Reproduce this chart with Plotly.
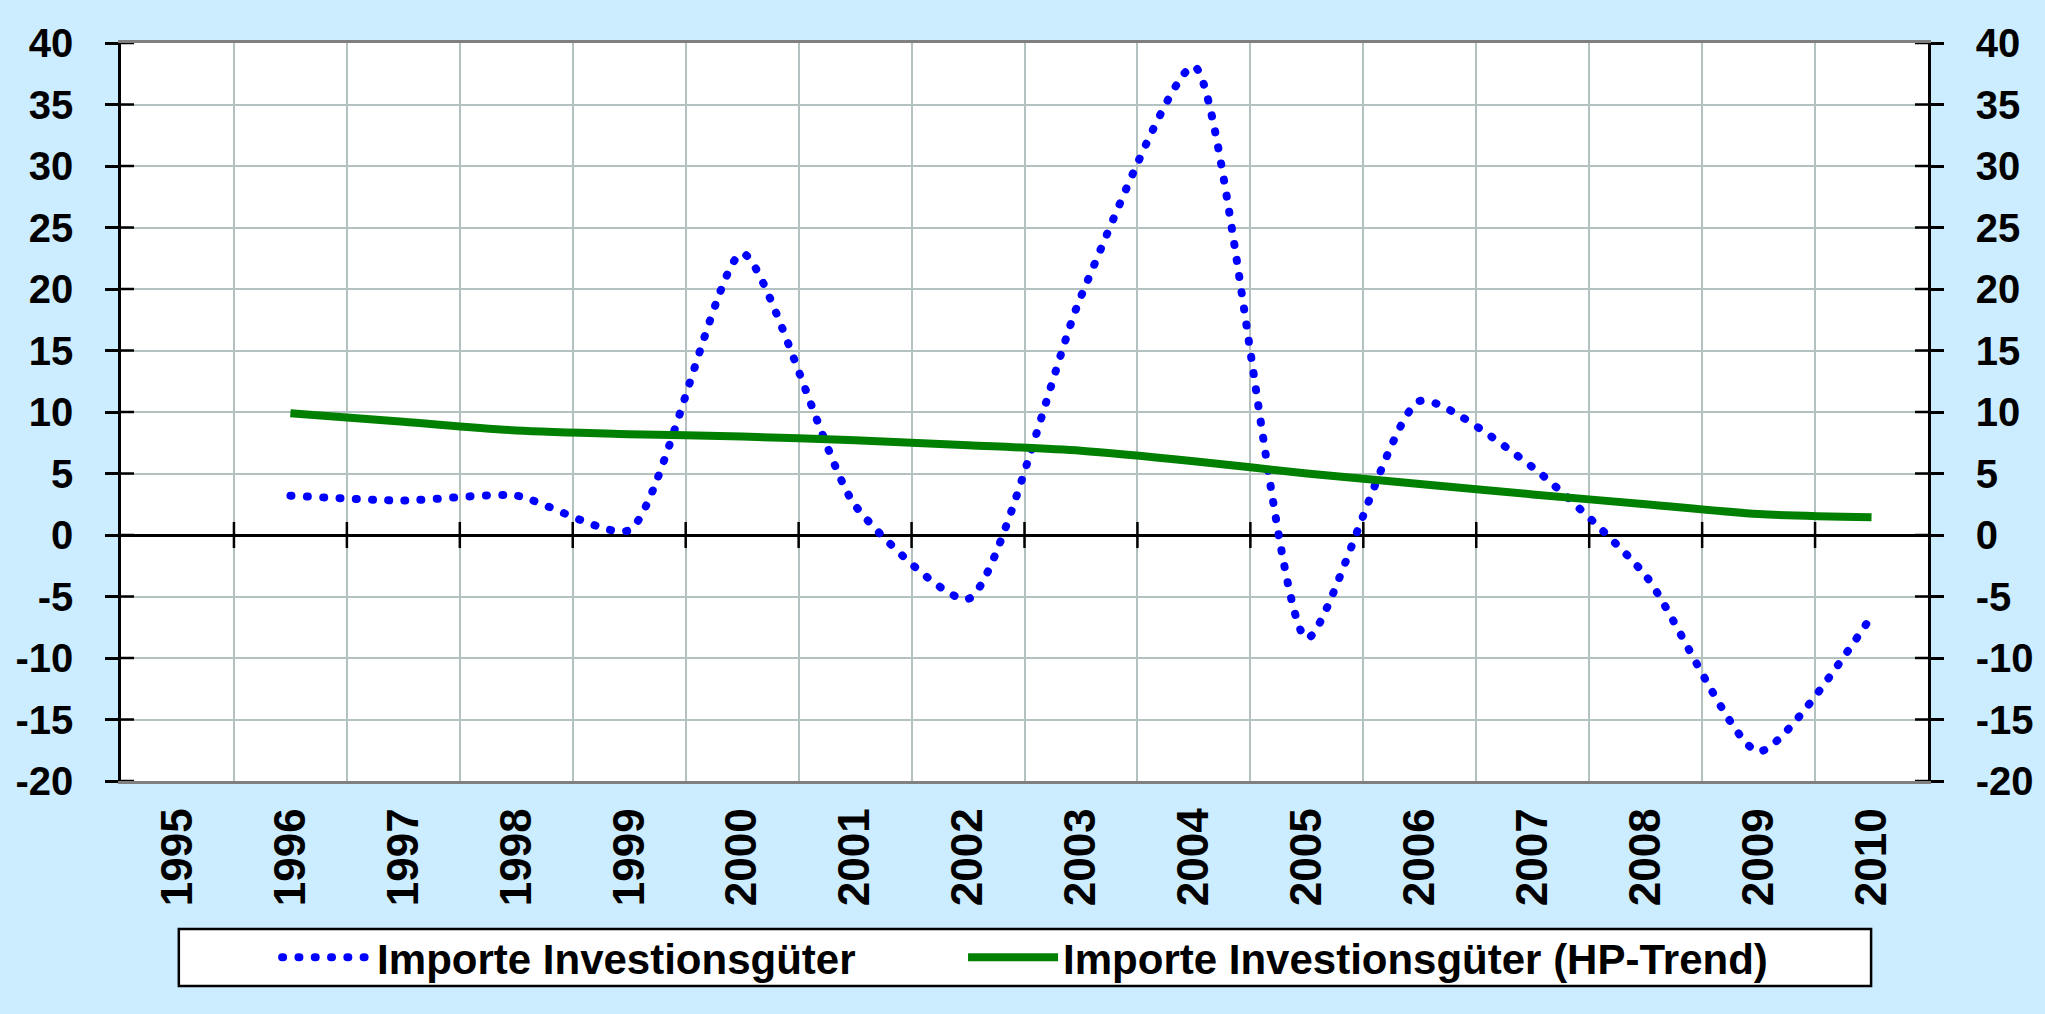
import plotly.graph_objects as go

years = [str(y) for y in range(1995, 2011)]
imports = [None, 3.2, 2.8, 3.2, 0.4, 22.9, 2.4, -5.2, 19.4, 38.1, -8.4, 10.9, 5.5, -3.3, -17.6, -6.6]
hp_trend = [None, 9.9, 9.2, 8.5, 8.2, 8.0, 7.7, 7.3, 6.85, 6.0, 5.0, 4.15, 3.3, 2.5, 1.7, 1.45]
y_ticks = [-20, -15, -10, -5, 0, 5, 10, 15, 20, 25, 30, 35, 40]
y_ticktext = [str(v) for v in y_ticks]
names = ["Importe Investionsgüter", "Importe Investionsgüter (HP-Trend)"]

FONT = "Liberation Sans, Arial, sans-serif"
BG = "#CCECFF"
GRID = "#B3C1C1"

fig = go.Figure()
fig.add_trace(go.Scatter(
    x=years, y=imports, name=names[0], mode="lines", legend="legend",
    line=dict(color="#0000FF", width=8, dash="1px,15.3px", shape="spline", smoothing=0.6),
))
fig.add_trace(go.Scatter(
    x=years, y=hp_trend, name=names[1], mode="lines", legend="legend2",
    line=dict(color="#008000", width=8, shape="spline", smoothing=0.8),
))
fig.add_trace(go.Scatter(
    x=years, y=hp_trend, yaxis="y2", mode="lines", showlegend=False,
    line=dict(color="rgba(0,0,0,0)", width=0), hoverinfo="skip",
))

yaxis_common = dict(
    range=[-20, 40], tickvals=y_ticks, ticktext=y_ticktext,
    ticks="outside", ticklen=13, tickwidth=2.5, tickcolor="black",
    showline=True, linecolor="black", linewidth=2.5,
    tickfont=dict(family=FONT, size=40, color="black", weight="bold"),
    ticklabelstandoff=24,
)
legend_common = dict(
    orientation="h", xanchor="left", y=-0.239, yanchor="middle",
    bgcolor="rgba(0,0,0,0)", borderwidth=0,
    font=dict(family=FONT, size=42, color="black", weight="bold"),
    itemwidth=90,
)
fig.update_layout(
    width=2045, height=1014,
    paper_bgcolor=BG, plot_bgcolor="white",
    margin=dict(l=121, r=117, t=43, b=233, autoexpand=False),
    xaxis=dict(
        type="category", range=[-0.5, len(years) - 0.5], tickson="boundaries",
        showgrid=True, gridcolor=GRID, gridwidth=1.5,
        ticks="", showline=True, linecolor="#808080", linewidth=2.5, mirror=True,
        tickangle=-90, ticklabelstandoff=7,
        tickfont=dict(family=FONT, size=44, color="black", weight="bold"),
    ),
    yaxis=dict(**yaxis_common, side="left", showgrid=True, gridcolor=GRID, gridwidth=1.5,
               zeroline=True, zerolinecolor="black", zerolinewidth=2.5),
    yaxis2=dict(**yaxis_common, side="right", overlaying="y", showgrid=False, zeroline=False),
    legend=dict(**legend_common, x=0.0864),
    legend2=dict(**legend_common, x=0.4660),
    showlegend=True,
)

shapes = []
# legend frame
shapes.append(dict(type="rect", xref="paper", yref="paper", x0=0.032, x1=0.9685, y0=-0.2778, y1=-0.2005,
                   fillcolor="white", line=dict(color="black", width=2.5), layer="below"))
# x ticks crossing the zero line at category boundaries
for i in range(1, len(years)):
    shapes.append(dict(type="line", xref="x", yref="y", x0=i - 0.5, x1=i - 0.5,
                       ysizemode="pixel", yanchor=0, y0=-13, y1=13,
                       line=dict(color="black", width=2.5)))
# inner halves of y ticks on both sides
for v in y_ticks:
    shapes.append(dict(type="line", xref="paper", yref="y", y0=v, y1=v,
                       xsizemode="pixel", xanchor=0, x0=0, x1=13, line=dict(color="black", width=2.5)))
    shapes.append(dict(type="line", xref="paper", yref="y", y0=v, y1=v,
                       xsizemode="pixel", xanchor=1, x0=-13, x1=0, line=dict(color="black", width=2.5)))
fig.update_layout(shapes=shapes)

post = """
document.body.style.margin = '0';
document.querySelectorAll('path').forEach(function(p){
  var s = p.style.stroke || '';
  if (s.replace(/\\s/g,'') === 'rgb(0,0,255)') { p.style.strokeLinecap = 'round'; }
});
"""
fig.write_html("out.html", post_script=post, config={"displayModeBar": False})
